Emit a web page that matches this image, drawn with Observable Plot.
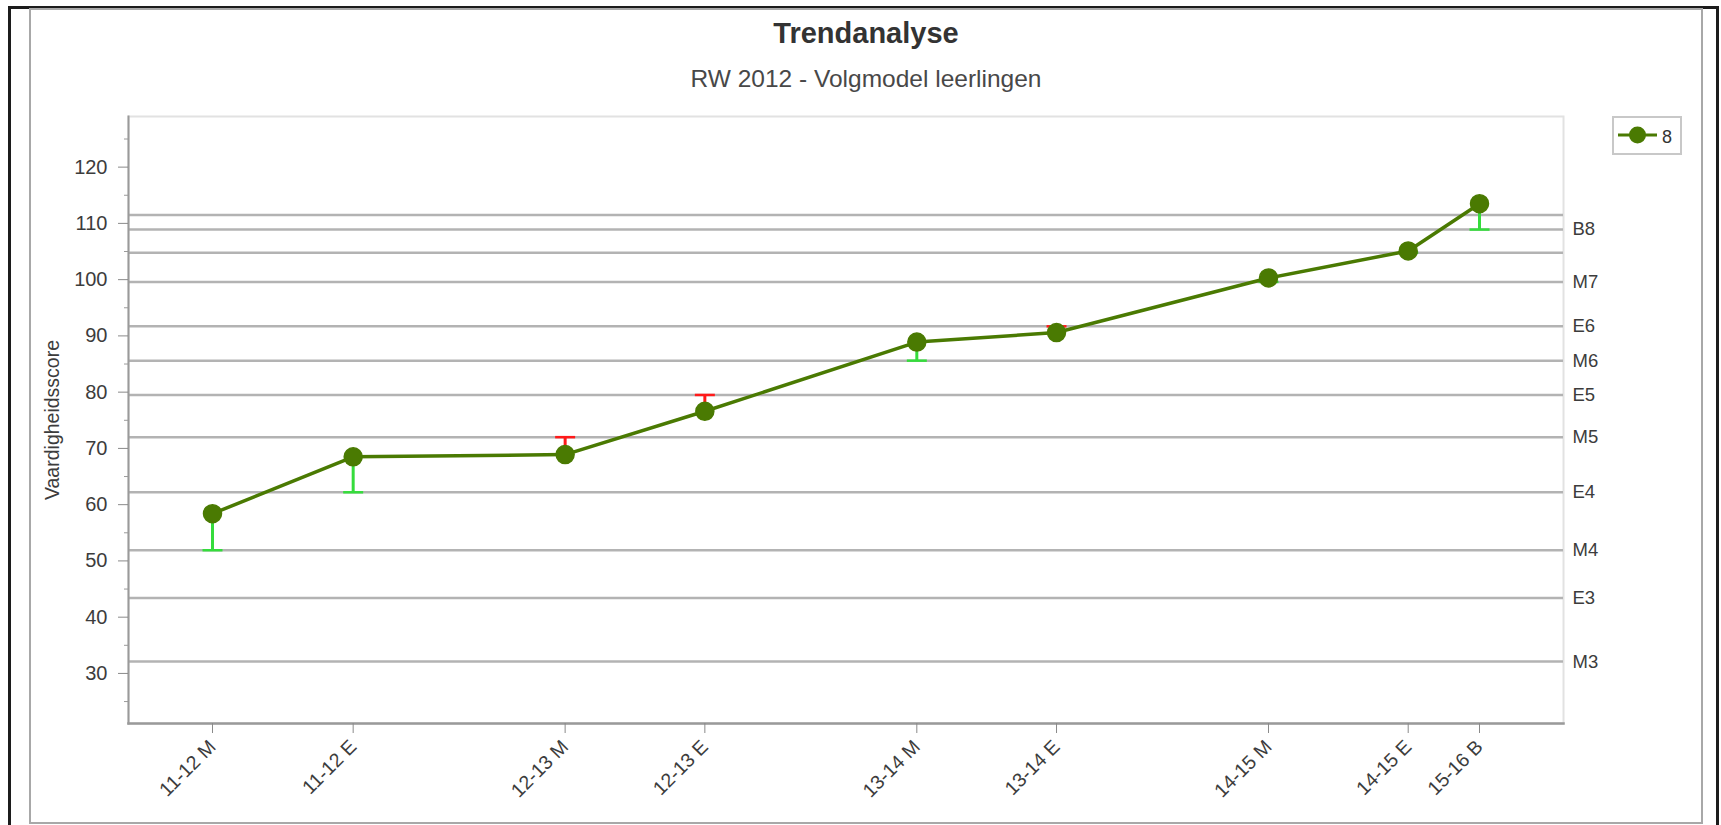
<!DOCTYPE html>
<html>
<head>
<meta charset="utf-8">
<script src="https://cdn.jsdelivr.net/npm/d3@7"></script>
<script src="https://cdn.jsdelivr.net/npm/@observablehq/plot@0.6"></script>
<style>
  html, body { margin: 0; padding: 0; background: #fff; }
  #wrap { position: relative; width: 1721px; height: 825px; overflow: hidden; font-family: "Liberation Sans", Arial, sans-serif; }
  #outer { position: absolute; left: 8px; top: 6px; width: 1711px; height: 840px; border: 3px solid #1c1c1c; box-sizing: border-box; }
  #inner { position: absolute; left: 29px; top: 8px; width: 1674px; height: 816px; border: 2px solid #a8a8a8; box-sizing: border-box; }
  #title { position: absolute; left: 29px; width: 1674px; top: 19px; text-align: center; font-size: 29px; line-height: 29px; font-weight: bold; color: #333; }
  #subtitle { position: absolute; left: 29px; width: 1674px; top: 67px; text-align: center; font-size: 24.5px; line-height: 24px; color: #484848; }
  #chart { position: absolute; left: 0; top: 95px; }
  #legend { position: absolute; left: 1612px; top: 116px; width: 70px; height: 39px; border: 2px solid #c8c8c8; box-sizing: border-box; background: #fff; }
</style>
</head>
<body>
<div id="wrap">
  <div id="outer"></div>
  <div id="inner"></div>
  <div id="title"></div>
  <div id="subtitle"></div>
  <div id="chart"></div>
  <div id="legend"></div>
</div>
<script>
// ---- data ----
const chartTitle = "Trendanalyse";
const chartSubtitle = "RW 2012 - Volgmodel leerlingen";
const yLabel = "Vaardigheidsscore";
const seriesName = "8";

const periods = ["11-12 M", "11-12 E", "12-13 M", "12-13 E", "13-14 M", "13-14 E", "14-15 M", "14-15 E", "15-16 B"];
const periodDates = ["2012-02-01", "2012-06-26", "2013-02-01", "2013-06-26", "2014-02-01", "2014-06-26", "2015-02-01", "2015-06-26", "2015-09-08"];
const scores = [58.4, 68.5, 68.9, 76.6, 88.9, 90.6, 100.3, 105.1, 113.5];
const norms = [51.9, 62.2, 72.0, 79.5, 85.6, 91.7, 99.6, 104.8, 108.9];

const levelValues = [111.5, 108.9, 104.8, 99.6, 91.7, 85.6, 79.5, 72.0, 62.2, 51.9, 43.4, 32.1];
const levelLabels = ["", "B8", "", "M7", "E6", "M6", "E5", "M5", "E4", "M4", "E3", "M3"];

const yMajorTicks = [30, 40, 50, 60, 70, 80, 90, 100, 110, 120];
const yMinorTicks = [25, 35, 45, 55, 65, 75, 85, 95, 105, 115, 125];
const yDomain = [21.1, 129];

// ---- styles ----
const lineColor = "#4a7a02";
const aboveColor = "#35dc3c";
const belowColor = "#ff1a1a";
const levelColor = "#b3b3b3";
const textColor = "#3c3c3c";

document.getElementById("title").textContent = chartTitle;
document.getElementById("subtitle").textContent = chartSubtitle;

const data = periods.map((p, i) => ({
  period: p,
  date: new Date(periodDates[i]),
  score: scores[i],
  norm: norms[i],
  color: scores[i] >= norms[i] ? aboveColor : belowColor
}));
const levels = levelValues.map((v, i) => ({value: v, label: levelLabels[i]}));
const labelByTime = new Map(data.map(d => [+d.date, d.period]));
const labelByLevel = new Map(levels.map(d => [d.value, d.label]));

const capSymbol = {
  draw(context, size) {
    const r = Math.sqrt(size / Math.PI);
    context.moveTo(-r, 0);
    context.lineTo(r, 0);
  }
};

const plot = Plot.plot({
  width: 1721,
  height: 730,
  marginLeft: 128,
  marginRight: 158,
  marginTop: 21,
  marginBottom: 102,
  style: {fontFamily: "'Liberation Sans', Arial, sans-serif", color: textColor, background: "transparent"},
  x: {type: "utc", domain: [data[0].date, data[data.length - 1].date], insetLeft: 84, insetRight: 84},
  y: {domain: yDomain},
  color: {type: "identity"},
  marks: [
    Plot.frame({stroke: "#e2e2e2", strokeWidth: 2}),
    Plot.ruleY(levels, {y: "value", stroke: levelColor, strokeWidth: 2.5}),
    Plot.frame({anchor: "left", stroke: "#9a9a9a", strokeWidth: 2}),
    Plot.frame({anchor: "bottom", stroke: "#9a9a9a", strokeWidth: 2.5}),
    Plot.axisY({ticks: yMajorTicks, tickSize: 10, tickPadding: 11, fontSize: 20, stroke: "#8a8a8a", label: null}),
    Plot.axisY({ticks: yMinorTicks, tickSize: 4, tickFormat: () => "", stroke: "#9a9a9a", label: null}),
    Plot.axisY({anchor: "right", ticks: levelValues, tickSize: 0, tickPadding: 9, fontSize: 18.5, tickFormat: v => labelByLevel.get(v) ?? "", label: null}),
    Plot.axisX({ticks: data.map(d => d.date), tickFormat: d => labelByTime.get(+d), tickRotate: -45, tickSize: 10, tickPadding: 10, fontSize: 19.5, stroke: "#8a8a8a", label: null}),
    Plot.text([yLabel], {frameAnchor: "left", textAnchor: "middle", rotate: -90, dx: -76, fontSize: 19.5, fill: textColor}),
    Plot.ruleX(data, {x: "date", y1: "norm", y2: "score", stroke: "color", strokeWidth: 3}),
    Plot.dot(data, {x: "date", y: "norm", symbol: capSymbol, r: 10, stroke: "color", strokeWidth: 2.5, fill: "none"}),
    Plot.line(data, {x: "date", y: "score", stroke: lineColor, strokeWidth: 3.5}),
    Plot.dot(data, {x: "date", y: "score", r: 9, fill: lineColor, stroke: lineColor})
  ]
});
document.getElementById("chart").appendChild(plot);

// legend
const leg = d3.select("#legend").append("svg").attr("width", 66).attr("height", 35);
leg.append("line").attr("x1", 4).attr("x2", 43).attr("y1", 17).attr("y2", 17).attr("stroke", lineColor).attr("stroke-width", 3);
leg.append("circle").attr("cx", 23.5).attr("cy", 17).attr("r", 8.5).attr("fill", lineColor);
leg.append("text").attr("x", 48).attr("y", 25).attr("font-size", 18).attr("fill", "#333")
  .attr("font-family", "'Liberation Sans', Arial, sans-serif").text(seriesName);
</script>
</body>
</html>
